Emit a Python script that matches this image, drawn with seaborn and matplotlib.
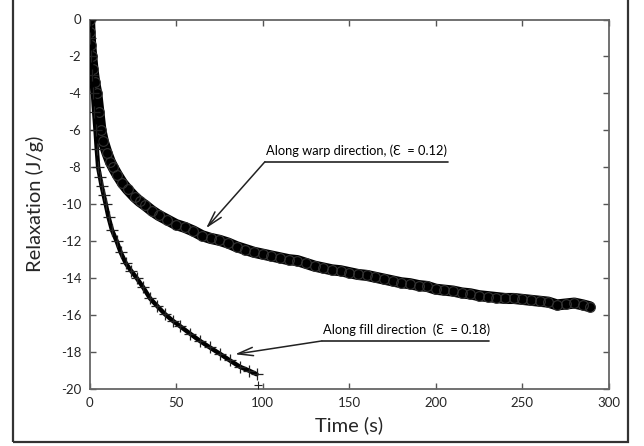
import matplotlib
matplotlib.use("Agg")
import matplotlib.pyplot as plt
import seaborn as sns
import pandas as pd
from matplotlib.patches import Rectangle

# ---- data ----
warp_time = [0, 0.3, 0.7, 1.3, 2, 3, 4.2, 5.4, 6.6, 8, 10, 12, 13.6, 16, 19, 22, 26, 29,
             32, 36, 40, 45, 50, 55, 60, 65, 70, 75, 80, 85, 90, 95, 100, 105, 110, 115,
             120, 125, 130, 135, 140, 145, 150, 155, 160, 165, 170, 175, 180, 185, 190,
             195, 200, 205, 210, 215, 220, 225, 230, 235, 240, 245, 250, 255, 260, 265,
             270, 275, 280, 285, 289]
warp_relax = [0, -0.7, -1.4, -2.0, -2.7, -3.4, -4.0, -5.0, -6.0, -6.6, -7.2, -7.7, -8.0,
              -8.4, -8.85, -9.2, -9.6, -9.85, -10.05, -10.35, -10.6, -10.85, -11.1, -11.25,
              -11.45, -11.7, -11.85, -11.95, -12.1, -12.3, -12.45, -12.6, -12.7, -12.8,
              -12.9, -13.0, -13.05, -13.2, -13.35, -13.45, -13.55, -13.6, -13.7, -13.8,
              -13.85, -13.95, -14.05, -14.15, -14.25, -14.3, -14.4, -14.45, -14.6, -14.65,
              -14.7, -14.8, -14.85, -14.95, -15.0, -15.05, -15.1, -15.1, -15.15, -15.2,
              -15.25, -15.3, -15.45, -15.4, -15.35, -15.45, -15.55]

fill_time = [0, 0.3, 0.7, 1.3, 2, 2.7, 3.5, 4.2, 5, 6, 7, 8.2, 9.4, 11, 13, 15.7, 18, 21,
             24, 27.3, 31, 35, 39, 43.6, 48, 52.3, 58, 63.8, 69.5, 75.4, 81, 86.9, 92, 96.5]
fill_relax = [0, -1.0, -2.0, -3.0, -4.0, -5.0, -6.0, -7.0, -8.0, -8.5, -9.0, -9.5, -10.0,
              -10.7, -11.4, -12.0, -12.6, -13.2, -13.6, -14.0, -14.5, -15.1, -15.5, -15.95,
              -16.3, -16.6, -17.0, -17.4, -17.75, -18.1, -18.45, -18.8, -19.0, -19.2]
fill_outlier_time = [97.5]
fill_outlier_relax = [-19.8]

x_ticks = [0, 50, 100, 150, 200, 250, 300]
y_ticks = [0, -2, -4, -6, -8, -10, -12, -14, -16, -18, -20]

warp_label = "Along warp direction, (\u0190  = 0.12)"
fill_label = "Along fill direction  (\u0190  = 0.18)"

# ---- figure ----
sns.set_style("ticks")
plt.rcParams["font.family"] = ["Lato", "DejaVu Sans"]

fig = plt.figure(figsize=(6.44, 4.46), dpi=100)
ax = fig.add_axes([89.5 / 644, (446 - 389) / 446, (609 - 89.5) / 644, (389 - 19.5) / 446])

warp_df = pd.DataFrame({"t": warp_time, "r": warp_relax})
fill_df = pd.DataFrame({"t": fill_time, "r": fill_relax})

sns.lineplot(data=warp_df, x="t", y="r", ax=ax, color="black", lw=8, estimator=None,
             sort=False, marker="o", markersize=7, markerfacecolor="none",
             markeredgecolor="#333333", markeredgewidth=0.8, zorder=3)
sns.lineplot(data=fill_df, x="t", y="r", ax=ax, color="black", lw=3.2, estimator=None,
             sort=False, marker="+", markersize=8, markeredgecolor="#222222",
             markeredgewidth=0.9, zorder=3)
sns.scatterplot(x=fill_outlier_time, y=fill_outlier_relax, ax=ax, marker="+", s=30,
                color="#222222", linewidth=0.8, zorder=3)

ax.set_xlim(0, 300)
ax.set_ylim(-20, 0)
ax.set_xticks(x_ticks)
ax.set_yticks(y_ticks)
ax.set_xticklabels([str(v) for v in x_ticks])
ax.set_yticklabels([str(v) for v in y_ticks])
ax.tick_params(direction="in", length=4, width=1, color="#555555", labelsize=9.5,
               top=True, right=True, labeltop=False, labelright=False, pad=6)
for s in ax.spines.values():
    s.set_color("#666666")
    s.set_linewidth(1.3)

ax.set_xlabel("Time (s)", fontsize=14.5, labelpad=5)
ax.set_ylabel("Relaxation (J/g)", fontsize=14.5, labelpad=12)

# ---- annotations: underline + leader with open arrow ----
ann_kw = dict(fontsize=9.3, color="black")
ax.text(102, -7.45, warp_label, ha="left", va="bottom", **ann_kw)
ax.plot([101.3, 207], [-7.70, -7.70], color="#222222", lw=1.2)
ax.annotate("", xy=(67.3, -11.3), xytext=(101.3, -7.70),
            arrowprops=dict(arrowstyle="->,head_length=1.1,head_width=0.3",
                            color="#222222", lw=1.1, shrinkA=0, shrinkB=0))

ax.text(135, -17.15, fill_label, ha="left", va="bottom", **ann_kw)
ax.plot([134.1, 230.7], [-17.40, -17.40], color="#222222", lw=1.2)
ax.annotate("", xy=(84, -18.12), xytext=(134.1, -17.40),
            arrowprops=dict(arrowstyle="->,head_length=1.1,head_width=0.3",
                            color="#222222", lw=1.1, shrinkA=0, shrinkB=0))

# ---- outer frame ----
fig.add_artist(Rectangle((13 / 644, 4 / 446), 615 / 644, 1.0, transform=fig.transFigure,
                         fill=False, edgecolor="#333333", lw=1.6, clip_on=False))

fig.savefig("out.png", dpi=100)
